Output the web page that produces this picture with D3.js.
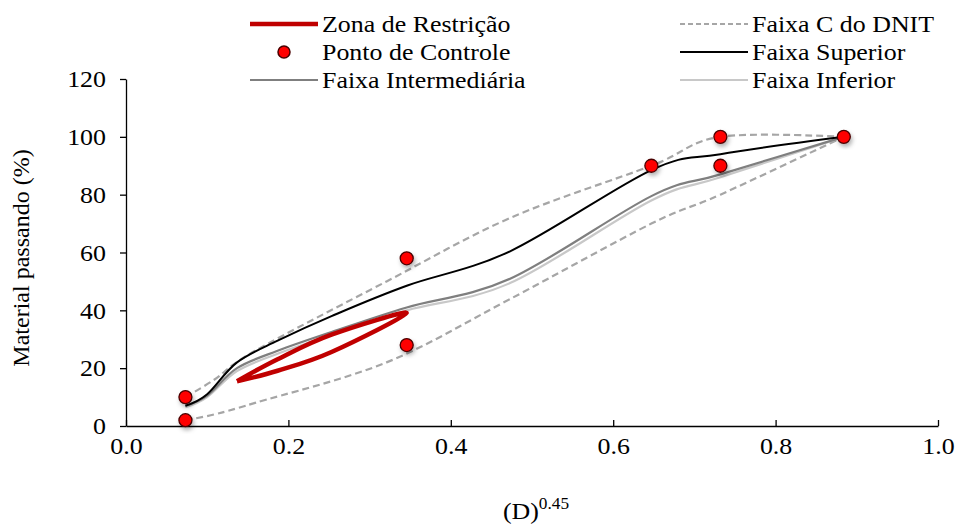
<!DOCTYPE html>
<html>
<head>
<meta charset="utf-8">
<script src="https://cdn.jsdelivr.net/npm/d3@7"></script>
<style>
  body { margin: 0; background: #fff; }
  svg text { font-family: "Liberation Serif", "Times New Roman", serif; fill: #000; }
</style>
</head>
<body>
<svg id="chart" width="958" height="526"></svg>
<script>
// x = (D)^0.45 positions of the sieves, y = % passando
var peneiraX   = [0.0732, 0.1, 0.1367, 0.1867, 0.2531, 0.3457, 0.4736, 0.647, 0.732, 0.884];
var superior   = [7, 11, 22, 29.5, 38, 48.5, 60.5, 88.5, 94, 100];
var intermed   = [7, 10.5, 20, 26, 32.5, 41, 51, 79.5, 87, 100];
var inferior   = [6.5, 10, 19, 25, 31.5, 40, 49.5, 78, 86, 100];

// faixa C do DNIT
var dnitX      = [0.0732, 0.1086, 0.159, 0.3209, 0.4736, 0.647, 0.732, 0.884];
var dnitSup    = [10, 16, 26, 50, 72, 90, 100, 100];
var dnitInf    = [2, 4, 8, 22, 44, 70, 80, 100];

// pontos de controle
var controleX  = [0.0732, 0.0732, 0.3457, 0.3457, 0.647, 0.732, 0.732, 0.884];
var controleY  = [10, 2, 58, 28, 90, 100, 90, 100];

// zona de restricao (loop: lower arm then upper arm)
var zonaX      = [0.1367, 0.1867, 0.2531, 0.3457, 0.2531, 0.1867, 0.1367];
var zonaY      = [15.5, 19.1, 25.6, 39.1, 31.6, 23.1, 15.5];

var xTicks = [0, 0.2, 0.4, 0.6, 0.8, 1.0];
var yTicks = [0, 20, 40, 60, 80, 100, 120];

var FS = "24px";
var SX = 1.08; // text in the reference is drawn a bit wide

var svg = d3.select("#chart");

var x = d3.scaleLinear().domain([0, 1]).range([126, 938]);
var y = d3.scaleLinear().domain([0, 120]).range([426, 79]);

var defs = svg.append("defs");
var f = defs.append("filter").attr("id", "sombra")
    .attr("x", "-50%").attr("y", "-50%").attr("width", "200%").attr("height", "200%");
f.append("feDropShadow").attr("dx", 1.5).attr("dy", 3).attr("stdDeviation", 2)
    .attr("flood-color", "#000").attr("flood-opacity", 0.3);

function pares(xs, ys) {
    return xs.map(function(v, i) { return [v, ys[i]]; });
}

var linha = d3.line()
    .x(function(d) { return x(d[0]); })
    .y(function(d) { return y(d[1]); })
    .curve(d3.curveCardinal.tension(0));

// axes
var yAxis = svg.append("g")
    .attr("transform", "translate(" + x(0) + ",0)")
    .call(d3.axisLeft(y).tickValues(yTicks).tickSizeInner(6).tickSizeOuter(0).tickPadding(14));
var xAxis = svg.append("g")
    .attr("transform", "translate(0," + y(0) + ")")
    .call(d3.axisBottom(x).tickValues(xTicks).tickFormat(d3.format(".1f"))
        .tickSizeInner(-6).tickSizeOuter(0).tickPadding(11));

[yAxis, xAxis].forEach(function(g) {
    g.attr("font-size", null).attr("font-family", null);
    g.select(".domain").attr("stroke", "#000").attr("stroke-width", 1.3);
    g.selectAll(".tick line").attr("stroke", "#000").attr("stroke-width", 1.3);
    g.selectAll(".tick text")
        .style("font-size", FS)
        .attr("fill", "#000");
});
yAxis.selectAll(".tick text").attr("transform", "scale(" + SX + ",1)").attr("x", -20 / SX);
xAxis.selectAll(".tick text").attr("transform", "scale(" + SX + ",1)")
    .attr("x", function(d) { return 0; });

// series
svg.append("path").datum(pares(dnitX, dnitSup))
    .attr("d", linha).attr("fill", "none")
    .attr("stroke", "#a6a6a6").attr("stroke-width", 2.2).attr("stroke-dasharray", "7,4");
svg.append("path").datum(pares(dnitX, dnitInf))
    .attr("d", linha).attr("fill", "none")
    .attr("stroke", "#a6a6a6").attr("stroke-width", 2.2).attr("stroke-dasharray", "7,4");

svg.append("path").datum(pares(peneiraX, inferior))
    .attr("d", linha).attr("fill", "none")
    .attr("stroke", "#c8c8c8").attr("stroke-width", 2.2);
svg.append("path").datum(pares(peneiraX, intermed))
    .attr("d", linha).attr("fill", "none")
    .attr("stroke", "#7f7f7f").attr("stroke-width", 2.2);
svg.append("path").datum(pares(peneiraX, superior))
    .attr("d", linha).attr("fill", "none")
    .attr("stroke", "#000").attr("stroke-width", 2);

svg.append("path").datum(pares(zonaX, zonaY))
    .attr("d", linha).attr("fill", "none")
    .attr("stroke", "#c00000").attr("stroke-width", 4.5)
    .attr("stroke-linejoin", "round");

svg.append("g").selectAll("circle")
    .data(pares(controleX, controleY))
    .enter().append("circle")
    .attr("cx", function(d) { return x(d[0]); })
    .attr("cy", function(d) { return y(d[1]); })
    .attr("r", 6.5)
    .attr("fill", "#ff0000")
    .attr("stroke", "#4a0000").attr("stroke-width", 1.3)
    .attr("filter", "url(#sombra)");

// axis titles
svg.append("text")
    .attr("transform", "translate(29,258) rotate(-90)")
    .attr("text-anchor", "middle")
    .style("font-size", FS)
    .text("Material passando (%)");

var xt = svg.append("text")
    .attr("transform", "translate(536,519) scale(" + SX + ",1)")
    .attr("text-anchor", "middle")
    .style("font-size", FS);
xt.append("tspan").text("(D)");
xt.append("tspan").style("font-size", "16px").attr("dy", -10).text("0.45");

// legend
var legenda = [
    { nome: "Zona de Restrição", tipo: "zona", col: 0, lin: 0 },
    { nome: "Ponto de Controle", tipo: "ponto", col: 0, lin: 1 },
    { nome: "Faixa Intermediária", tipo: "intermed", col: 0, lin: 2 },
    { nome: "Faixa C do DNIT", tipo: "dnit", col: 1, lin: 0 },
    { nome: "Faixa Superior", tipo: "superior", col: 1, lin: 1 },
    { nome: "Faixa Inferior", tipo: "inferior", col: 1, lin: 2 }
];
var estilo = {
    zona:     { cor: "#c00000", w: 4.5, dash: null },
    intermed: { cor: "#7f7f7f", w: 2.2, dash: null },
    dnit:     { cor: "#a6a6a6", w: 2.2, dash: "5,3" },
    superior: { cor: "#000", w: 2, dash: null },
    inferior: { cor: "#c8c8c8", w: 2.2, dash: null }
};
var colX = [250, 680];
var linY = [24, 52, 80];

legenda.forEach(function(it) {
    var gx = colX[it.col], gy = linY[it.lin];
    if (it.tipo === "ponto") {
        svg.append("circle").attr("cx", gx + 34).attr("cy", gy).attr("r", 6)
            .attr("fill", "#ff0000").attr("stroke", "#4a0000").attr("stroke-width", 1.5);
    } else {
        var s = estilo[it.tipo];
        svg.append("line").attr("x1", gx).attr("x2", gx + 68)
            .attr("y1", gy).attr("y2", gy)
            .attr("stroke", s.cor).attr("stroke-width", s.w)
            .attr("stroke-dasharray", s.dash);
    }
    svg.append("text")
        .attr("transform", "translate(" + (gx + 72) + "," + (gy + 8) + ") scale(" + SX + ",1)")
        .style("font-size", FS)
        .text(it.nome);
});
</script>
</body>
</html>
